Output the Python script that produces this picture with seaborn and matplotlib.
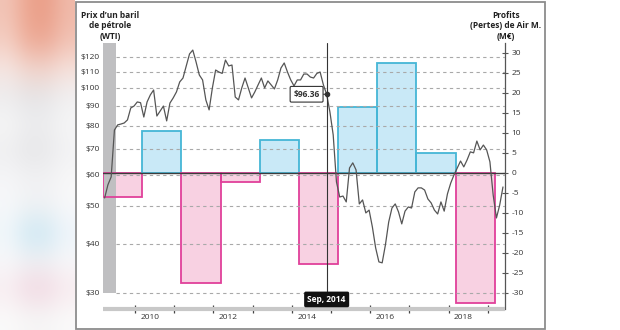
import numpy as np
import matplotlib
matplotlib.use("Agg")
import matplotlib.pyplot as plt
import matplotlib.transforms as mtransforms
from matplotlib.patches import Rectangle
from matplotlib.ticker import NullLocator, NullFormatter
import seaborn as sns

# Annual profit / loss of Air M. (M€), calendar years
years = list(range(2009, 2019))
profits = [-6.0, 10.5, -27.5, -2.25, 8.25, -22.75, 16.5, 27.5, 5.0, -32.5]

# Monthly WTI price (USD / barrel), starting January 2009
wti_start_year = 2009
wti = [
    52.4, 56.6, 59.3, 78.1, 80.5, 80.9, 81.4, 82.9, 88.9, 89.9, 92.1, 91.7,
    84.3, 92.1, 96.0, 98.8, 84.8, 87.3, 89.9, 82.4, 91.5, 94.3, 97.7, 103.6,
    106.0, 113.8, 122.1, 124.9, 116.5, 107.9, 104.8, 93.2, 87.9, 100.0, 111.1, 109.8,
    108.9, 117.8, 113.8, 114.4, 94.8, 93.2, 100.0, 106.0, 100.0, 94.3, 97.7, 101.8,
    106.0, 100.0, 104.2, 101.8, 99.4, 104.8, 112.4, 115.8, 109.8, 104.8, 101.2, 104.8,
    104.8, 108.5, 108.5, 106.6, 106.0, 108.9, 109.8, 101.8, 96.36, 86.8, 75.9, 57.6,
    52.7, 53.0, 51.2, 62.5, 64.4, 61.8, 50.6, 51.8, 48.0, 48.8, 44.2, 39.1,
    36.0, 35.8, 39.8, 45.5, 49.4, 50.6, 48.3, 45.0, 48.5, 49.7, 49.4, 54.3,
    55.6, 55.6, 54.9, 52.1, 50.9, 48.8, 47.7, 51.2, 48.5, 53.7, 57.2, 60.0,
    62.5, 65.1, 62.9, 65.5, 68.7, 68.3, 73.2, 69.5, 71.5, 69.5, 64.8, 53.3,
    46.6, 50.3, 55.9,
]

price_ticks = [30, 40, 50, 60, 70, 80, 90, 100, 110, 120]
price_labels = ["$30", "$40", "$50", "$60", "$70", "$80", "$90", "$100", "$110", "$120"]
profit_ticks = list(range(-30, 31, 5))
year_labels = [2010, 2012, 2014, 2016, 2018]

event_index = 68          # September 2014
event_label = "Sep, 2014"
shade_months = 4          # grey strip at the start of the series

left_title = "Prix d’un baril\nde pétrole\n(WTI)"
right_title = "Profits\n(Pertes) de Air M.\n(M€)"

# colours
BLUE_FILL, BLUE_EDGE = "#c9e9f7", "#45b6d6"
PINK_FILL, PINK_EDGE = "#f8d1e2", "#e0409a"
STRIP = "#bfbfc1"
INK = "#333333"
FS = 6.0

sns.set_style("white")
plt.rcParams["font.family"] = ["Open Sans", "DejaVu Sans"]
plt.rcParams["axes.unicode_minus"] = False

fig = plt.figure(figsize=(6.2, 3.3), dpi=100)
fig.patch.set_facecolor("white")

# soft, out-of-focus page content on the left margin
bg = np.array([
    [[242, 196, 182], [236, 164, 142], [234, 158, 136], [240, 186, 170]],
    [[244, 206, 194], [238, 172, 152], [236, 168, 148], [242, 194, 180]],
    [[246, 230, 226], [242, 214, 206], [242, 212, 204], [246, 226, 220]],
    [[236, 236, 238], [228, 228, 230], [230, 230, 232], [240, 240, 242]],
    [[246, 246, 246], [238, 238, 240], [238, 238, 240], [246, 246, 246]],
    [[238, 238, 240], [230, 230, 232], [232, 232, 234], [242, 242, 244]],
    [[246, 246, 248], [242, 242, 244], [242, 242, 244], [248, 248, 248]],
    [[246, 248, 250], [240, 242, 244], [240, 242, 244], [248, 248, 250]],
    [[238, 246, 250], [204, 232, 244], [206, 232, 244], [236, 244, 250]],
    [[248, 248, 250], [242, 242, 244], [242, 242, 244], [248, 248, 250]],
    [[248, 236, 240], [242, 216, 226], [242, 216, 226], [248, 234, 238]],
    [[250, 250, 250], [246, 246, 246], [246, 246, 246], [250, 250, 250]],
], dtype=float) / 255.0
ax_bg = fig.add_axes([0, 0, 75 / 620, 1], zorder=-5)
ax_bg.imshow(bg, aspect="auto", interpolation="bicubic", extent=(0, 1, 0, 1))
ax_bg.set_axis_off()

# main axes: profits (linear, right) + WTI price (log, left) on a twin
ax = fig.add_axes([103 / 620, 1 - 309 / 330, 402 / 620, 266 / 330])
ax.set_facecolor("white")
x_max = 2019.26
ax.set_xlim(2009, x_max)
ax.set_ylim(-34.1, 32.4)

ax_p = ax.twinx()
ax_p.set_yscale("log")
ax_p.set_ylim(27.3, 130.2)
ax_p.set_xlim(2009, x_max)

# profit bars: fill first, outline afterwards (above the grey strip)
fills = [BLUE_FILL if v > 0 else PINK_FILL for v in profits]
edges = [BLUE_EDGE if v > 0 else PINK_EDGE for v in profits]
ax.bar(years, profits, width=1.0, align="edge", color=fills, linewidth=0, zorder=1)
shade_end = wti_start_year + shade_months / 12
ax.add_patch(Rectangle((wti_start_year, price_ticks[0]), shade_end - wti_start_year,
                       200, transform=ax_p.transData, color=STRIP, lw=0, zorder=2))
ax.bar(years, profits, width=1.0, align="edge", fill=False, edgecolor=edges,
       linewidth=1.3, zorder=3)
ax.axhline(0, color="#3c3c3c", lw=1.0, zorder=4)

# dashed price grid
ax_p.hlines(price_ticks, shade_end, x_max, colors="#a9a9a9",
            linestyles=(0, (3, 3)), lw=0.8, zorder=1)

# WTI line
months = wti_start_year + (np.arange(len(wti)) + 0.5) / 12
sns.lineplot(x=months, y=wti, ax=ax_p, color="#555555", lw=0.9, zorder=3)

# September 2014 marker
x_event = months[event_index]
y_event = wti[event_index]
ax_p.axvline(x_event, ymin=0.06, ymax=1, color=INK, lw=0.8, zorder=4)
ax_p.plot([x_event], [y_event], "o", ms=3, color=INK, zorder=6)
ax_p.annotate(f"${y_event:.2f}", xy=(x_event, y_event), xytext=(-5, 0),
              textcoords="offset points", ha="right", va="center",
              fontsize=FS, fontweight="bold", color=INK, zorder=7,
              bbox=dict(boxstyle="round,pad=0.4,rounding_size=0.15",
                        fc="white", ec=INK, lw=0.8),
              arrowprops=dict(arrowstyle="-", color=INK, lw=0.8,
                              shrinkA=0, shrinkB=1))
blend = mtransforms.blended_transform_factory(ax_p.transData, ax_p.transAxes)
ax_p.text(x_event, 0.036, event_label, transform=blend, ha="center", va="center",
          fontsize=FS, fontweight="bold", color="white", zorder=8,
          bbox=dict(boxstyle="round,pad=0.4,rounding_size=0.2", fc="#111111", ec="none"))

# spines
for s in ("top", "left"):
    ax.spines[s].set_visible(False)
ax.spines["right"].set_color("#555555")
ax.spines["right"].set_linewidth(0.9)
ax.spines["bottom"].set_color("#c8c8c8")
ax.spines["bottom"].set_linewidth(3)
ax.spines["bottom"].set_capstyle("butt")
for s in ax_p.spines.values():
    s.set_visible(False)

# x axis: year boundary ticks and year labels
ax.set_xticks([y + 0.82 for y in years], minor=True)
ax.set_xticks([y + 0.2 for y in year_labels])
ax.set_xticklabels([str(y) for y in year_labels])
ax.tick_params(axis="x", which="major", bottom=True, length=0, pad=3.5,
               labelsize=FS, labelcolor=INK)
ax.tick_params(axis="x", which="minor", bottom=True, length=6, width=0.9,
               direction="inout", color="#444444")
ax_p.tick_params(axis="x", which="both", length=0, labelbottom=False)

# right axis: profits
ax.yaxis.tick_right()
ax.set_yticks(profit_ticks)
ax.set_yticklabels([str(t) for t in profit_ticks])
ax.tick_params(axis="y", right=True, direction="inout", length=5, width=0.8,
               color="#555555", labelsize=FS, pad=2, labelcolor=INK)

# left axis: price
ax_p.yaxis.tick_left()
ax_p.yaxis.set_minor_locator(NullLocator())
ax_p.yaxis.set_minor_formatter(NullFormatter())
ax_p.set_yticks(price_ticks)
ax_p.set_yticklabels(price_labels)
ax_p.tick_params(axis="y", which="both", length=0, pad=2.3, labelsize=FS, labelcolor=INK)
ax_p.set_ylabel("")
ax_p.set_xlabel("")

# axis titles
fig.text(110 / 620, 1 - 11 / 330, left_title, ha="center", va="top", fontsize=FS,
         fontweight="bold", color="#222222", linespacing=1.2)
fig.text(506 / 620, 1 - 11 / 330, right_title, ha="center", va="top", fontsize=FS,
         fontweight="bold", color="#222222", linespacing=1.2)

# frame around the graphic
fig.add_artist(Rectangle((75.5 / 620, 1.5 / 330), 469.5 / 620, 327 / 330,
                         transform=fig.transFigure, fill=False, ec="#8c8c8c", lw=1.3))

fig.savefig("out.png", dpi=100)
